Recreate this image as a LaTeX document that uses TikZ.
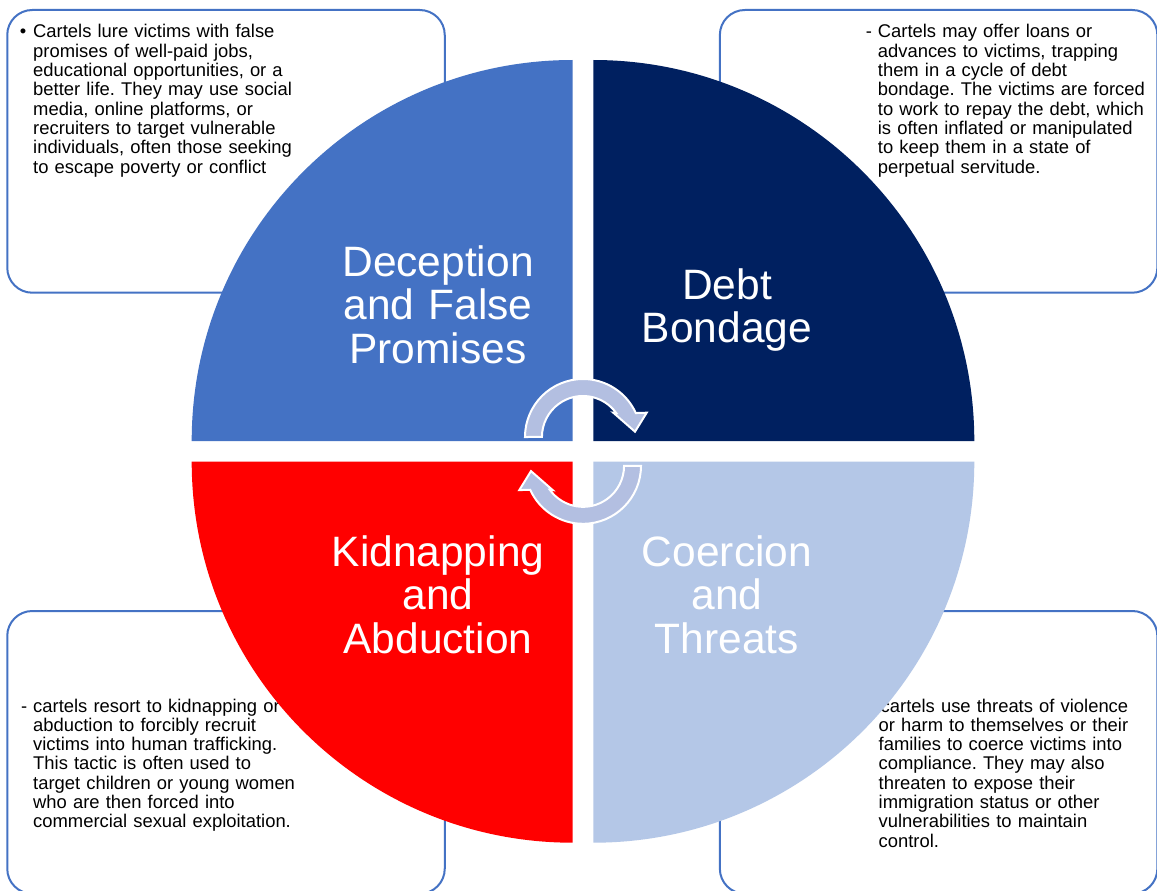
\documentclass[tikz,border=0pt]{standalone}
\usepackage{fontspec}
\setmainfont{Liberation Sans}
\usetikzlibrary{calc}
\definecolor{qblue}{HTML}{4472C4}
\definecolor{qnavy}{HTML}{002060}
\definecolor{qred}{HTML}{FF0000}
\definecolor{qlight}{HTML}{B4C7E7}
\definecolor{arrfill}{HTML}{B3BFE1}
\frenchspacing
\begin{document}
\begin{tikzpicture}[x=1pt,y=1pt,
  infobox/.style={draw=qblue, line width=2pt, fill=white, rounded corners=25pt,
    minimum width=437.5pt, minimum height=282.7pt, inner sep=0pt},
  bodytext/.style={inner sep=0pt, anchor=base west, text width=300pt, align=left,
    font=\frenchspacing\fontsize{18.4pt}{19.3pt}\selectfont},
  quadlabel/.style={inner sep=0pt, anchor=base, text width=280pt, align=center,
    text=white, font=\fontsize{42.5pt}{43.5pt}\selectfont},
  cyclearr/.pic={
    \path[fill=arrfill, draw=white, line width=2pt, line join=miter]
      (-58,14.4) arc[start angle=180, end angle=24.4, radius=58pt]
      -- (63.7,38.7) -- (52,19.7) -- (30.3,38.7) -- (33.2,38.4)
      arc[start angle=35.8, end angle=180, radius=41pt] -- cycle;
  }
]
\useasboundingbox (0,0) rectangle (1157,-891);
\fill[white] (0,0) rectangle (1157,-891);

% boxes
\node[infobox] (boxTL) at (226,-151.35) {};
\node[infobox] (boxTR) at (938.6,-151.35) {};
\node[infobox] (boxBL) at (226,-752.35) {};
\node[infobox] (boxBR) at (938.6,-752.35) {};

% body texts
\node[bodytext] (txtTL) at (33,-38) {\leavevmode\llap{•\kern7pt}Cartels lure victims with false\\promises of well-paid jobs,\\educational opportunities, or a\\better life. They may use social\\media, online platforms, or\\recruiters to target vulnerable\\individuals, often those seeking\\to escape poverty or conflict};
\node[bodytext] (txtTR) at (877.7,-38) {\leavevmode\llap{-\kern6pt}Cartels may offer loans or\\advances to victims, trapping\\them in a cycle of debt\\bondage. The victims are forced\\to work to repay the debt, which\\is often inflated or manipulated\\to keep them in a state of\\perpetual servitude.};
\node[bodytext] (txtBL) at (33,-712) {\leavevmode\llap{-\kern6pt}cartels resort to kidnapping or\\abduction to forcibly recruit\\victims into human trafficking.\\This tactic is often used to\\target children or young women\\who are then forced into\\commercial sexual exploitation.};
\node[bodytext] (txtBR) at (878.5,-712) {\leavevmode\kern2pt cartels use threats of violence\\or harm to themselves or their\\families to coerce victims into\\compliance. They may also\\threaten to expose their\\immigration status or other\\vulnerabilities to maintain\\control.};

% quadrants
\fill[qblue] (572.7,-441) -- (191.7,-441) arc[start angle=180, end angle=90, radius=381pt] -- cycle;
\fill[qnavy] (593.3,-441) -- (593.3,-60) arc[start angle=90, end angle=0, radius=381pt] -- cycle;
\fill[qred] (572.7,-461.7) -- (191.7,-461.7) arc[start angle=180, end angle=270, radius=381pt] -- cycle;
\fill[qlight] (593.3,-461.7) -- (974.3,-461.7) arc[start angle=0, end angle=-90, radius=381pt] -- cycle;

% labels
\node[quadlabel] (labTL) at (438,-276) {Deception\\and False\\Promises};
\node[quadlabel] (labTR) at (727,-299) {Debt\\Bondage};
\node[quadlabel] (labBL) at (438,-566) {Kidnapping\\and\\Abduction};
\node[quadlabel] (labBR) at (727,-566) {Coercion\\and\\Threats};

% cycle arrows
\pic (arrTop) at (583,-451.4) {cyclearr};
\pic[rotate=180] (arrBot) at (583,-451.4) {cyclearr};
\end{tikzpicture}
\end{document}
